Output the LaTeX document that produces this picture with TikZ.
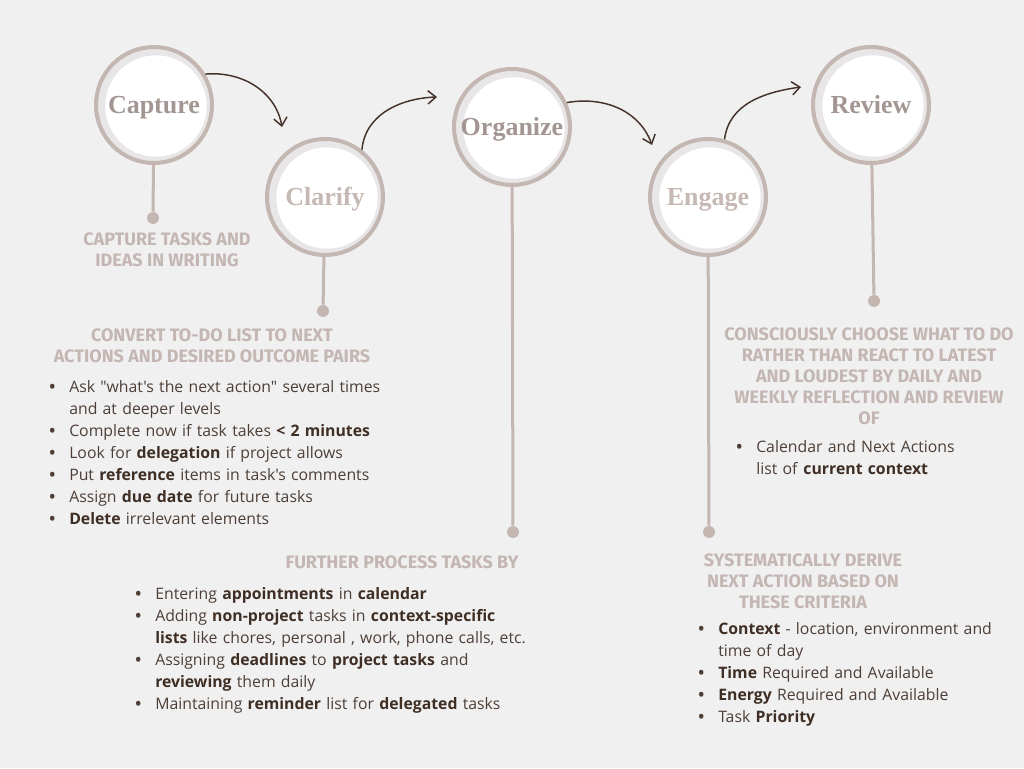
\documentclass[tikz,border=0pt]{standalone}
\usepackage{fontspec}
\setmainfont{Open Sans}[Ligatures=TeXOff]
\newfontfamily\headfont{Fira Sans}
\newfontfamily\titlefont{Liberation Serif}
\usepackage{enumitem}
\usetikzlibrary{arrows.meta}
\definecolor{bgc}{HTML}{F0F0F0}
\definecolor{ringc}{HTML}{C4B6B1}
\definecolor{bandc}{HTML}{E8E6E6}
\definecolor{titledark}{HTML}{A39692}
\definecolor{titlelight}{HTML}{C6B9B4}
\definecolor{headc}{HTML}{C4B6B2}
\definecolor{bodyc}{HTML}{4D3F37}
\definecolor{boldc}{HTML}{3F2E24}
\definecolor{arrowc}{HTML}{45322A}
\newcommand{\hl}[1]{\textbf{\color{boldc}#1}}
\setlist[itemize]{nosep, leftmargin=12.75pt, labelsep=10.5pt, label={\bfseries\textbullet}}
\begin{document}
\begin{tikzpicture}[x=0.75pt,y=0.75pt]
	\tikzstyle{stage} = [circle, draw=ringc, line width=3pt, fill=bandc, minimum size=87pt, inner sep=0pt, text height=12.9pt, text depth=0pt, font=\titlefont\bfseries\fontsize{19.5}{22}\selectfont, path picture={\fill[white] ([shift={(1.5pt,-0.75pt)}]path picture bounding box.center) circle (38pt);}]
	\tikzstyle{stem} = [draw=ringc, line width=2.25pt]
	\tikzstyle{dot} = [circle, fill=ringc, minimum size=9pt, inner sep=0pt]
	\tikzstyle{head} = [align=center, text=headc, font=\headfont\bfseries\fontsize{13.5}{15.75}\selectfont]
	\tikzstyle{list} = [anchor=north west, inner sep=0pt, text=bodyc, font=\fontsize{11.85}{16.5}\selectfont]
	\tikzstyle{flow} = [draw=arrowc, line width=1.1pt, -{Straight Barb[length=6pt,width=10pt]}]

	\fill[bgc] (0,0) rectangle (1024,768);
	\useasboundingbox (0,0) rectangle (1024,768);

	\node[stage, text=titledark] (cap) at (154,663) {Capture};
	\node[stage, text=titlelight] (cla) at (325,571) {Clarify};
	\node[stage, text=titledark] (org) at (512,641) {Organize};
	\node[stage, text=titlelight] (eng) at (708,571) {Engage};
	\node[stage, text=titledark] (rev) at (871,663) {Review};

	\node[dot] (capdot) at (153,550) {};
	\node[dot] (cladot) at (323,457) {};
	\node[dot] (orgdot) at (513,236) {};
	\node[dot] (engdot) at (709,236) {};
	\node[dot] (revdot) at (874,467) {};

	\draw[stem] (cap) -- (capdot);
	\draw[stem] (cla) -- (cladot);
	\draw[stem] (org) -- (orgdot);
	\draw[stem] (eng) -- (engdot);
	\draw[stem] (rev) -- (revdot);

	\coordinate (capend) at (282,641);
	\coordinate (claend) at (437,671);
	\coordinate (orgend) at (652,623);
	\coordinate (engend) at (801,681);

	\draw[flow] (cap.31) to[out=5,in=100] (capend);
	\draw[flow] (cla.52) to[out=85,in=182] (claend);
	\draw[flow] (org.24) to[out=10,in=110] (orgend);
	\draw[flow] (eng.74) to[out=83,in=188] (engend);

	\node[head] (caphead) at (167,518.5) {CAPTURE TASKS AND\\IDEAS IN WRITING};
	\node[head] (clahead) at (212,422.5) {CONVERT TO-DO LIST TO NEXT\\ACTIONS AND DESIRED OUTCOME PAIRS};
	\node[head] (orghead) at (402,206) {FURTHER PROCESS TASKS BY};
	\node[head] (revhead) at (869,392) {CONSCIOUSLY CHOOSE WHAT TO DO\\RATHER THAN REACT TO LATEST\\AND LOUDEST BY DAILY AND\\WEEKLY REFLECTION AND REVIEW\\OF};
	\node[head] (enghead) at (803,187) {SYSTEMATICALLY DERIVE\\NEXT ACTION BASED ON\\THESE CRITERIA};

	\node[list, text width=300pt] (clalist) at (52,398) {\begin{itemize}
		\item Ask "what's the next action" several times\\and at deeper levels
		\item Complete now if task takes \hl{< 2 minutes}
		\item Look for \hl{delegation} if project allows
		\item Put \hl{reference} items in task's comments
		\item Assign \hl{due date} for future tasks
		\item \hl{Delete} irrelevant elements
	\end{itemize}};
	\node[list, text width=330pt] (orglist) at (138,191) {\begin{itemize}
		\item Entering \hl{appointments} in \hl{calendar}
		\item Adding \hl{non-project} tasks in \hl{context-specific}\\\hl{lists} like chores, personal , work, phone calls, etc.
		\item Assigning \hl{deadlines} to \hl{project tasks} and\\\hl{reviewing} them daily
		\item Maintaining \hl{reminder} list for \hl{delegated} tasks
	\end{itemize}};
	\node[list, text width=220pt] (revlist) at (739,338) {\begin{itemize}
		\item Calendar and Next Actions\\list of \hl{current context}
	\end{itemize}};
	\node[list, text width=240pt] (englist) at (701,156) {\begin{itemize}
		\item \hl{Context} - location, environment and\\time of day
		\item \hl{Time} Required and Available
		\item \hl{Energy} Required and Available
		\item Task \hl{Priority}
	\end{itemize}};
\end{tikzpicture}
\end{document}
